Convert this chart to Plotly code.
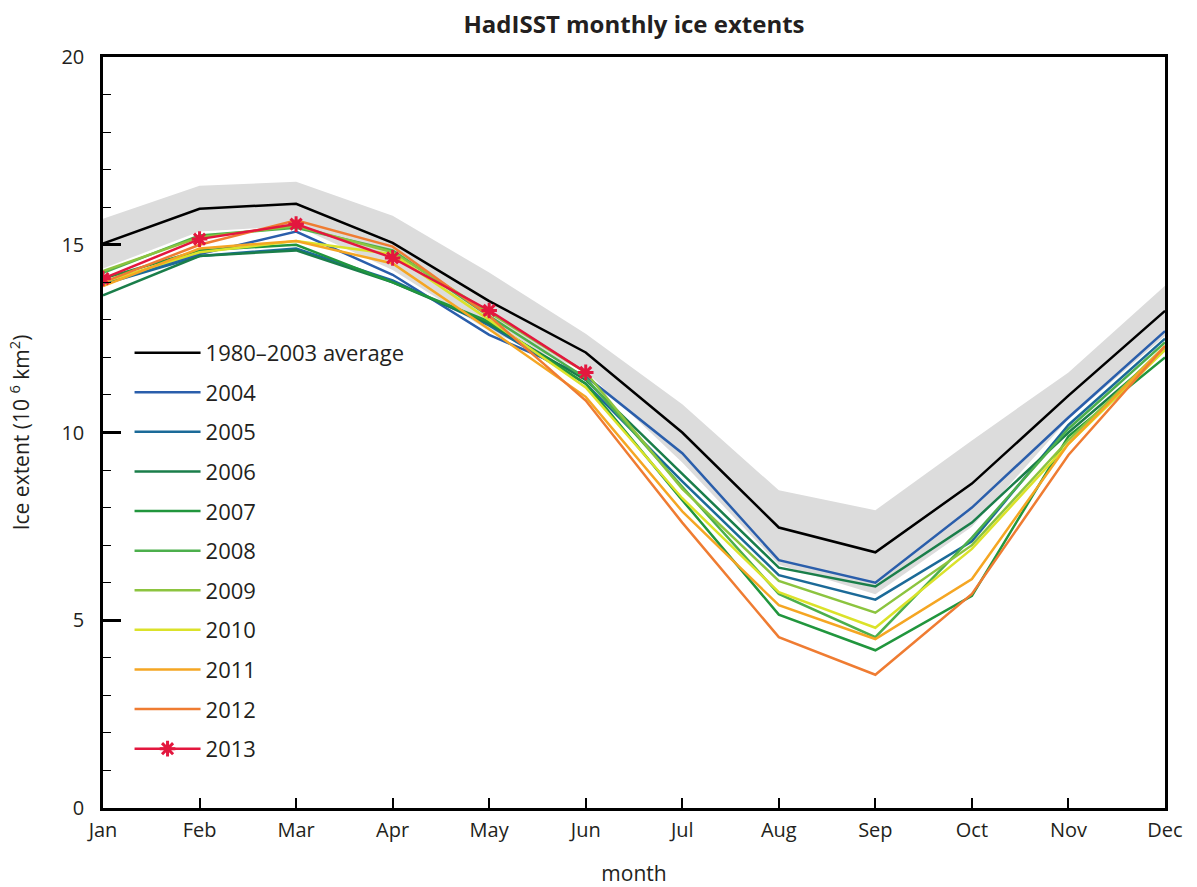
import plotly.graph_objects as go

# Month labels for the x axis
months = ["Jan", "Feb", "Mar", "Apr", "May", "Jun",
          "Jul", "Aug", "Sep", "Oct", "Nov", "Dec"]

# 1980-2003 climatology (10^6 km^2) and its spread band
avg_1980_2003 = [15.03, 15.96, 16.09, 15.05, 13.50, 12.13, 10.00, 7.47, 6.81, 8.64, 10.98, 13.24]
band_upper = [15.69, 16.57, 16.68, 15.77, 14.26, 12.63, 10.75, 8.46, 7.93, 9.79, 11.60, 13.91]
band_lower = [14.37, 15.35, 15.50, 14.33, 12.70, 11.63, 9.20, 6.48, 5.69, 7.49, 10.36, 12.57]

# Individual years
y2004 = [14.00, 14.75, 15.35, 14.20, 12.60, 11.50, 9.45, 6.60, 6.00, 8.00, 10.40, 12.70]
y2005 = [13.95, 14.70, 14.90, 14.05, 12.85, 11.30, 8.70, 6.20, 5.55, 7.10, 10.20, 12.50]
y2006 = [13.65, 14.70, 14.85, 14.00, 12.90, 11.40, 8.90, 6.40, 5.90, 7.60, 10.00, 12.20]
y2007 = [14.10, 14.85, 15.00, 14.00, 12.95, 11.30, 8.20, 5.15, 4.20, 5.65, 9.90, 12.00]
y2008 = [14.25, 15.25, 15.45, 14.85, 13.10, 11.45, 8.55, 5.70, 4.55, 7.20, 10.10, 12.40]
y2009 = [14.30, 15.20, 15.50, 14.80, 13.20, 11.60, 8.50, 6.05, 5.20, 7.00, 9.80, 12.30]
y2010 = [14.00, 14.80, 15.10, 14.75, 13.00, 11.20, 8.25, 5.75, 4.80, 6.90, 9.70, 12.20]
y2011 = [13.90, 14.90, 15.10, 14.50, 12.75, 10.95, 7.90, 5.40, 4.50, 6.10, 9.70, 12.30]
y2012 = [14.00, 15.00, 15.65, 14.95, 13.10, 10.85, 7.60, 4.55, 3.55, 5.70, 9.40, 12.30]
y2013 = [14.10, 15.15, 15.55, 14.65, 13.25, 11.60]

years = [
    ("2004", y2004, "#2a5eab"),
    ("2005", y2005, "#1b6a98"),
    ("2006", y2006, "#1a7e4a"),
    ("2007", y2007, "#21963d"),
    ("2008", y2008, "#4caf4c"),
    ("2009", y2009, "#8cc43f"),
    ("2010", y2010, "#dbe22a"),
    ("2011", y2011, "#f5a623"),
    ("2012", y2012, "#ef7c32"),
]

fig = go.Figure()

# Grey spread band around the climatology
fig.add_trace(go.Scatter(x=months, y=band_upper, mode="lines",
                         line=dict(width=0, color="#dcdcdc"),
                         showlegend=False, hoverinfo="skip"))
fig.add_trace(go.Scatter(x=months, y=band_lower, mode="lines",
                         line=dict(width=0, color="#dcdcdc"),
                         fill="tonexty", fillcolor="#dcdcdc",
                         showlegend=False, hoverinfo="skip"))

fig.add_trace(go.Scatter(x=months, y=avg_1980_2003, mode="lines",
                         name="1980\u20132003 average", legendgroup="avg",
                         line=dict(color="black", width=2.5)))

for name, vals, col in years:
    fig.add_trace(go.Scatter(x=months, y=vals, mode="lines", name=name,
                             legendgroup=name,
                             line=dict(color=col, width=2.5)))

fig.add_trace(go.Scatter(x=months[:len(y2013)], y=y2013, mode="lines+markers",
                         name="2013", legendgroup="2013",
                         line=dict(color="#e3173e", width=2.5),
                         marker=dict(symbol="asterisk-open", size=13,
                                     color="#e3173e",
                                     line=dict(color="#e3173e", width=3))))

font_family = "Open Sans, Lato, sans-serif"

fig.update_layout(
    width=1197, height=887,
    margin=dict(l=103, r=32, t=57, b=79),
    paper_bgcolor="white", plot_bgcolor="white",
    font=dict(family=font_family, size=20, color="#231f20"),
    title=dict(text="<b>HadISST monthly ice extents</b>",
               x=0.5, xref="paper", xanchor="center",
               y=1 - 25 / 887, yref="container", yanchor="middle",
               font=dict(size=24, color="#231f20")),
    legend=dict(x=0.025, y=0.634, xanchor="left", yanchor="top",
                bgcolor="rgba(0,0,0,0)", borderwidth=0,
                tracegroupgap=8, itemwidth=66,
                font=dict(size=22, color="#231f20")),
    showlegend=True,
)

fig.update_xaxes(
    range=[0, 11], type="category", automargin=False,
    showline=True, linecolor="black", linewidth=2.5, mirror=True,
    ticks="inside", ticklen=10, tickwidth=2, tickcolor="black",
    showgrid=False, zeroline=False,
    ticklabelstandoff=2,
    tickfont=dict(size=20),
    title=dict(text="month", standoff=26, font=dict(size=21)),
)

fig.update_yaxes(
    range=[0, 20], tickvals=[0, 5, 10, 15, 20], automargin=False,
    showline=True, linecolor="black", linewidth=2.5, mirror=True,
    ticks="inside", ticklen=18, tickwidth=2.5, tickcolor="black",
    minor=dict(dtick=1, ticks="inside", ticklen=8, tickwidth=1.2, tickcolor="black"),
    showgrid=False, zeroline=False,
    ticklabelstandoff=12,
    tickfont=dict(size=20),
    title=dict(text="Ice extent (10 <sup>6</sup> km<sup>2</sup>)", standoff=27,
               font=dict(size=21)),
)

fig.write_html("out.html")
